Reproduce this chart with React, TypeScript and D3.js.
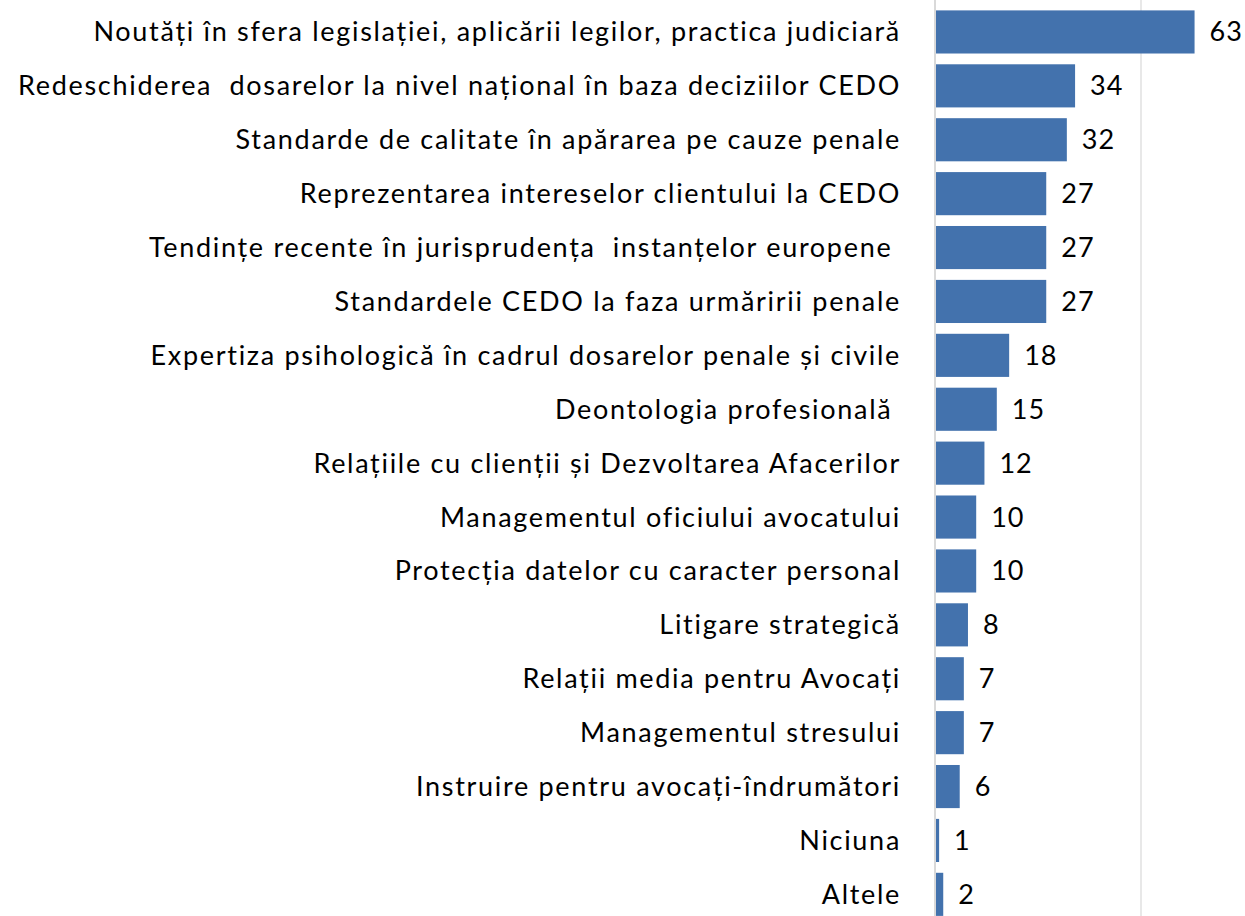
import React, { useRef, useEffect } from "react";
import * as d3 from "d3";

const categories = [
  "Noutăți în sfera legislației, aplicării legilor, practica judiciară",
  "Redeschiderea  dosarelor la nivel național în baza deciziilor CEDO",
  "Standarde de calitate în apărarea pe cauze penale",
  "Reprezentarea intereselor clientului la CEDO",
  "Tendințe recente în jurisprudența  instanțelor europene ",
  "Standardele CEDO la faza urmăririi penale",
  "Expertiza psihologică în cadrul dosarelor penale și civile",
  "Deontologia profesională ",
  "Relațiile cu clienții și Dezvoltarea Afacerilor",
  "Managementul oficiului avocatului",
  "Protecția datelor cu caracter personal",
  "Litigare strategică",
  "Relații media pentru Avocați",
  "Managementul stresului",
  "Instruire pentru avocați-îndrumători",
  "Niciuna",
  "Altele",
];
const values = [63, 34, 32, 27, 27, 27, 18, 15, 12, 10, 10, 8, 7, 7, 6, 1, 2];
const gridTicks = [0, 50];

const W = 1245;
const H = 916;

const BarChart: React.FC = () => {
  const ref = useRef<SVGSVGElement>(null);

  useEffect(() => {
    if (!ref.current) return;
    const svg = d3.select(ref.current);
    svg.selectAll("*").remove(); // start clean

    const x = d3.scaleLinear().domain([0, 50]).range([935, 1141]);
    const y = d3
      .scaleBand<string>()
      .domain(categories)
      .range([5, 5 + 53.9 * 17])
      .paddingInner(0.2)
      .paddingOuter(0.1);

    const font = "Lato, 'Open Sans', sans-serif";

    // gridlines (the 0 one doubles as the axis line)
    svg
      .append("g")
      .selectAll("line")
      .data(gridTicks)
      .enter()
      .append("line")
      .attr("x1", (d) => x(d))
      .attr("x2", (d) => x(d))
      .attr("y1", 0)
      .attr("y2", H)
      .attr("stroke", "#d9d9d9")
      .attr("stroke-width", (d) => (d === 0 ? 2 : 1.2));

    const rows = categories.map((c, i) => ({ c, v: values[i] }));

    svg
      .append("g")
      .selectAll("rect")
      .data(rows)
      .enter()
      .append("rect")
      .attr("x", x(0) + 1)
      .attr("y", (d) => y(d.c) || 0)
      .attr("width", (d) => Math.max(x(d.v) - x(0) - 1, 1))
      .attr("height", y.bandwidth())
      .attr("fill", "#4372ad");

    // category labels
    svg
      .append("g")
      .selectAll("text")
      .data(rows)
      .enter()
      .append("text")
      .attr("x", 901)
      .attr("y", (d) => (y(d.c) || 0) + y.bandwidth() / 2)
      .attr("dy", "0.35em")
      .attr("text-anchor", "end")
      .style("white-space", "pre")
      .style("font-family", font)
      .style("font-size", "27px")
      .style("letter-spacing", "1.7px")
      .attr("fill", "#000")
      .text((d) => d.c);

    // value labels
    svg
      .append("g")
      .selectAll("text")
      .data(rows)
      .enter()
      .append("text")
      .attr("x", (d) => x(d.v) + 15)
      .attr("y", (d) => (y(d.c) || 0) + y.bandwidth() / 2)
      .attr("dy", "0.35em")
      .style("font-family", font)
      .style("font-size", "27px")
      .style("letter-spacing", "1px")
      .attr("fill", "#000")
      .text((d) => d.v);
  }, []);

  return (
    <svg
      ref={ref}
      width={W}
      height={H}
      style={{ position: "absolute", left: 0, top: 0, background: "#fff", display: "block" }}
    ></svg>
  );
};

export default function App() {
  return <BarChart />;
}
